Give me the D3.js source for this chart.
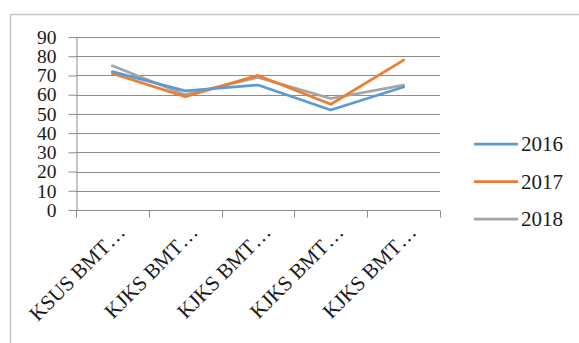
<!DOCTYPE html>
<html>
<head>
<meta charset="utf-8">
<script src="https://cdn.jsdelivr.net/npm/d3@7/dist/d3.min.js"></script>
<style>
  html, body { margin: 0; padding: 0; background: #fff; }
  svg { display: block; }
  text { font-family: "Liberation Serif", "Times New Roman", serif; fill: #1a1a1a; }
</style>
</head>
<body>
<svg id="chart" width="579" height="343"></svg>
<script>
// Institutions along the category axis (labels are truncated as shown)
const categories = ["KSUS BMT…", "KJKS BMT…", "KJKS BMT…", "KJKS BMT…", "KJKS BMT…"];
const years = ["2016", "2017", "2018"];
const values2016 = [72, 62, 65, 52, 64];
const values2017 = [71, 59, 70, 55, 78];
const values2018 = [75, 60, 69, 58, 65];
const yTicks = [0, 10, 20, 30, 40, 50, 60, 70, 80, 90];
const colors = ["#5B9BD5", "#ED7D31", "#A5A5A5"];

const series = [values2016, values2017, values2018].map((vals, i) => ({
  name: years[i],
  color: colors[i],
  values: vals.map((v, j) => ({ cat: j, value: v }))
}));

const svg = d3.select("#chart");

// Outer chart frame
svg.append("path")
  .attr("d", "M10.5,350 V14.5 H590")
  .attr("fill", "none")
  .attr("stroke", "#c4c4c4")
  .attr("stroke-width", 1.5);

const plot = { left: 76, right: 440, top: 37, bottom: 210 };

const x = d3.scaleBand()
  .domain(d3.range(categories.length))
  .range([plot.left, plot.right])
  .paddingInner(0).paddingOuter(0);

const y = d3.scaleLinear()
  .domain([0, 90])
  .range([plot.bottom, plot.top]);

// Horizontal gridlines
svg.append("g")
  .selectAll("line")
  .data(yTicks.filter(t => t > 0))
  .join("line")
  .attr("x1", plot.left).attr("x2", plot.right)
  .attr("y1", d => Math.round(y(d)) + 0.5).attr("y2", d => Math.round(y(d)) + 0.5)
  .attr("stroke", "#8c8c8c").attr("stroke-width", 1);

// Y axis
const yAxis = svg.append("g")
  .attr("transform", `translate(${plot.left + 0.5},0)`)
  .call(d3.axisLeft(y).tickValues(yTicks).tickSize(8).tickPadding(12).tickSizeOuter(0));
yAxis.select(".domain").attr("stroke", "#8c8c8c");
yAxis.selectAll(".tick line").attr("stroke", "#8c8c8c");
yAxis.selectAll(".tick text")
  .attr("font-size", "19.5px")
  .attr("font-family", "Liberation Serif, serif")
  .attr("fill", "#1a1a1a");

// X axis with tick marks at category boundaries
const xAxisG = svg.append("g")
  .attr("transform", `translate(0,${plot.bottom + 0.5})`);
xAxisG.append("line")
  .attr("x1", plot.left).attr("x2", plot.right)
  .attr("stroke", "#8c8c8c");
const boundaries = d3.range(categories.length + 1).map(i => plot.left + i * x.bandwidth());
xAxisG.selectAll("line.tk")
  .data(boundaries)
  .join("line")
  .attr("class", "tk")
  .attr("x1", d => Math.round(d) + 0.5).attr("x2", d => Math.round(d) + 0.5)
  .attr("y1", 0).attr("y2", 7)
  .attr("stroke", "#8c8c8c");

// Rotated category labels
xAxisG.selectAll("text")
  .data(categories)
  .join("text")
  .attr("text-anchor", "end")
  .attr("font-size", "21px")
  .attr("transform", (d, i) => `translate(${x(i) + x.bandwidth() / 2 + 14},${23}) rotate(-45)`)
  .text(d => d);

// Series lines
const line = d3.line()
  .x(d => x(d.cat) + x.bandwidth() / 2)
  .y(d => y(d.value));

svg.append("g")
  .selectAll("path")
  .data(series.slice().reverse())
  .join("path")
  .attr("d", d => line(d.values))
  .attr("fill", "none")
  .attr("stroke", d => d.color)
  .attr("stroke-width", 2.75)
  .attr("stroke-linejoin", "round")
  .attr("stroke-linecap", "round");

// Legend
const legend = svg.append("g")
  .selectAll("g")
  .data(series)
  .join("g")
  .attr("transform", (d, i) => `translate(474,${144 + i * 37.5})`);
legend.append("line")
  .attr("x1", 0).attr("x2", 44)
  .attr("stroke", d => d.color)
  .attr("stroke-width", 2.75);
legend.append("text")
  .attr("x", 47).attr("y", 7)
  .attr("font-size", "21px")
  .text(d => d.name);
</script>
</body>
</html>
